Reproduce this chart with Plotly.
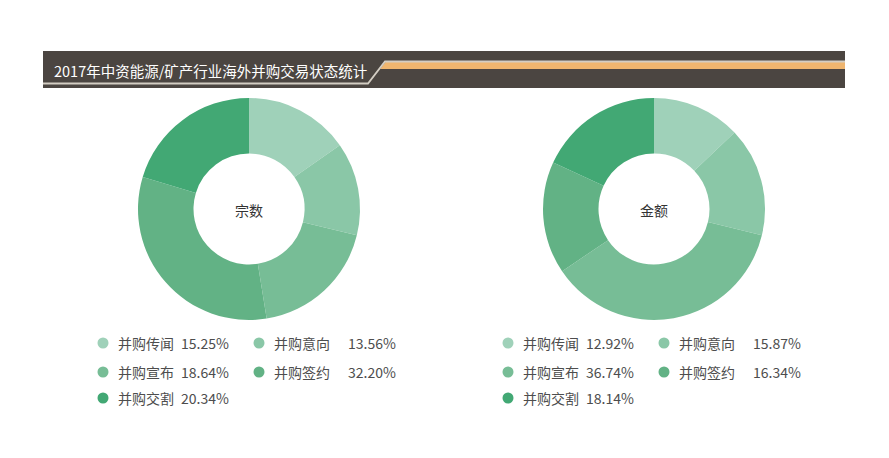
import plotly.graph_objects as go

W, H = 889, 458

title = "2017年中资能源/矿产行业海外并购交易状态统计"
categories = ["并购传闻", "并购意向", "并购宣布", "并购签约", "并购交割"]
count_share = [15.25, 13.56, 18.64, 32.20, 20.34]
amount_share = [12.92, 15.87, 36.74, 16.34, 18.14]
center_labels = ["宗数", "金额"]
colors = ["#9fd1b9", "#8ac7a7", "#77bd96", "#62b285", "#42a874"]

FONT = "Noto Sans CJK SC"

fig = go.Figure()

charts = [
    dict(values=count_share, label=center_labels[0], cx=249, cy=209, lx=[103, 259]),
    dict(values=amount_share, label=center_labels[1], cx=654, cy=209, lx=[508, 664]),
]
R = 111

shapes = []
annotations = []

def px(x):
    return x / W

def py(y):
    return 1 - y / H

for ch in charts:
    fig.add_trace(go.Pie(
        labels=categories,
        values=ch["values"],
        hole=0.5,
        sort=False,
        direction="clockwise",
        rotation=0,
        marker=dict(colors=colors, line=dict(width=0)),
        textinfo="none",
        hoverinfo="label+percent",
        showlegend=False,
        domain=dict(x=[px(ch["cx"] - R), px(ch["cx"] + R)],
                    y=[py(ch["cy"] + R), py(ch["cy"] - R)]),
    ))
    annotations.append(dict(
        x=px(ch["cx"]), y=py(ch["cy"] + 1), xref="paper", yref="paper",
        text=ch["label"], showarrow=False,
        font=dict(family=FONT, size=14, color="#333333"),
        xanchor="center", yanchor="middle",
    ))
    rows_y = [343, 372, 398]
    for i, (cat, val) in enumerate(zip(categories, ch["values"])):
        col = i % 2
        row = i // 2
        mx = ch["lx"][col]
        my = rows_y[row]
        r = 5.5
        shapes.append(dict(
            type="circle", xref="paper", yref="paper",
            x0=px(mx - r), x1=px(mx + r), y0=py(my + r), y1=py(my - r),
            fillcolor=colors[i], line=dict(width=0),
        ))
        annotations.append(dict(
            x=px(mx + 13), y=py(my), xref="paper", yref="paper",
            text=cat, showarrow=False,
            font=dict(family=FONT, size=14, color="#4d4d4d"),
            xanchor="left", yanchor="middle",
        ))
        if col == 0:
            annotations.append(dict(
                x=px(mx + 76), y=py(my), xref="paper", yref="paper",
                text=f"{val:.2f}%", showarrow=False,
                font=dict(family=FONT, size=14, color="#4d4d4d"),
                xanchor="left", yanchor="middle",
            ))
        else:
            annotations.append(dict(
                x=px(mx + 139), y=py(my), xref="paper", yref="paper",
                text=f"{val:.2f}%", showarrow=False,
                font=dict(family=FONT, size=14, color="#4d4d4d"),
                xanchor="right", yanchor="middle",
            ))

# header band
bx0, bx1, by0, by1 = 43, 845, 51, 88
shapes.insert(0, dict(type="rect", xref="paper", yref="paper",
                      x0=px(bx0), x1=px(bx1), y0=py(by1), y1=py(by0),
                      fillcolor="#4b4541", line=dict(width=0), layer="below"))

def path(points, close=False):
    s = "M " + " L ".join(f"{px(x)},{py(y)}" for x, y in points)
    return s + (" Z" if close else "")

# orange stripe
shapes.insert(1, dict(type="path", xref="paper", yref="paper",
                      path=path([(380, 69), (385.5, 62), (bx1, 62), (bx1, 69)], close=True),
                      fillcolor="#efb56f", line=dict(width=0), layer="below"))
# light line
shapes.insert(2, dict(type="path", xref="paper", yref="paper",
                      path=path([(bx0, 83.5), (368, 83.5), (385, 61.5), (bx1, 61.5)]),
                      line=dict(color="#d3cdc3", width=1.8), layer="below"))

annotations.append(dict(
    x=px(52), y=py(70), xref="paper", yref="paper",
    text=title, showarrow=False,
    font=dict(family=FONT, size=14.5, color="#ffffff"),
    xanchor="left", yanchor="middle",
))

fig.update_layout(
    width=W, height=H,
    margin=dict(l=0, r=0, t=0, b=0, pad=0),
    paper_bgcolor="#ffffff", plot_bgcolor="#ffffff",
    shapes=shapes, annotations=annotations,
    showlegend=False,
)

fig.write_html("out.html")
